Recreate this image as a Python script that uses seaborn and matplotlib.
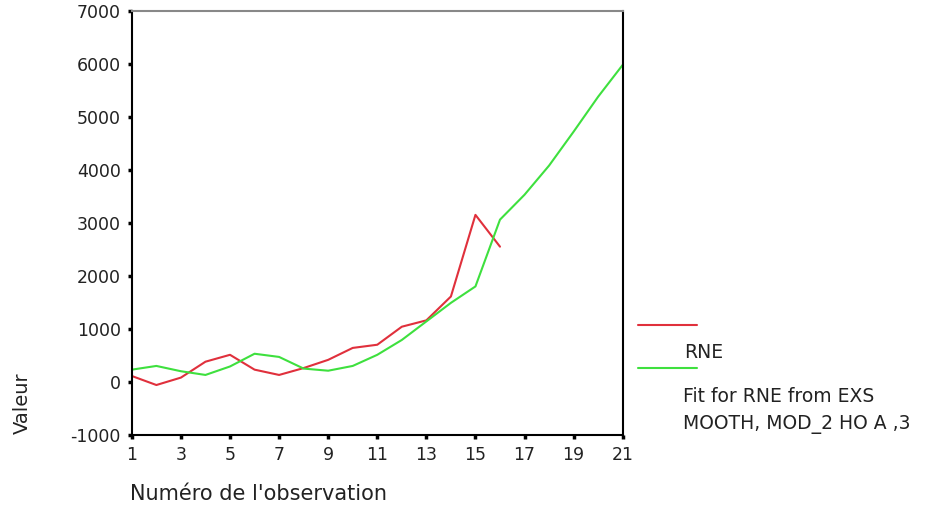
import matplotlib
matplotlib.use("Agg")
import matplotlib.pyplot as plt
import seaborn as sns
import pandas as pd
from matplotlib.lines import Line2D

obs_rne = list(range(1, 17))
rne = [110, -60, 80, 380, 510, 230, 130, 260, 415, 640, 700, 1040, 1160, 1610, 3150, 2550]
obs_fit = list(range(1, 22))
fit = [230, 300, 200, 130, 290, 530, 470, 250, 210, 300, 510, 790, 1140, 1490, 1800,
       3060, 3530, 4080, 4720, 5380, 5980]
xticks = list(range(1, 22, 2))
yticks = list(range(-1000, 7001, 1000))

sns.set_theme(style="white")
plt.rcParams['font.family'] = ['DejaVu Sans']
plt.rcParams['axes.unicode_minus'] = False

fig = plt.figure(figsize=(9.35, 5.14), dpi=100)
ax = fig.add_axes([0.141, 0.154, 0.525, 0.825])

df_r = pd.DataFrame({"obs": obs_rne, "val": rne})
df_f = pd.DataFrame({"obs": obs_fit, "val": fit})
red = "#e0303c"
green = "#3ee03e"
sns.lineplot(data=df_r, x="obs", y="val", ax=ax, color=red, lw=1.5)
sns.lineplot(data=df_f, x="obs", y="val", ax=ax, color=green, lw=1.5)

ax.set_xlim(1, 21)
ax.set_ylim(-1000, 7000)
ax.set_xticks(xticks)
ax.set_yticks(yticks)
ax.tick_params(axis='both', direction='out', length=3, width=2.5, color='black',
               labelsize=12.5, labelcolor='#222222', pad=5, bottom=True, left=True)
for s in ['left', 'bottom', 'right']:
    ax.spines[s].set_color('black')
    ax.spines[s].set_linewidth(1.5)
ax.spines['top'].set_color('#888888')
ax.spines['top'].set_linewidth(1.5)
ax.set_xlabel("")
ax.set_ylabel("")

fig.text(0.139, 1 - 494/514, "Numéro de l'observation", fontsize=15, color='#222222', ha='left', va='center')
fig.text(0.024, 1 - 403/514, "Valeur", fontsize=14, color='#222222', rotation=90, ha='center', va='center')

# legend
fig.add_artist(Line2D([0.682, 0.745], [1 - 325/514] * 2, color=red, lw=1.5))
fig.text(0.732, 1 - 352/514, "RNE", fontsize=13.5, color='#222222', ha='left', va='center')
fig.add_artist(Line2D([0.682, 0.745], [1 - 368/514] * 2, color=green, lw=1.5))
fig.text(0.730, 1 - 396/514, "Fit for RNE from EXS", fontsize=13.5, color='#222222', ha='left', va='center')
fig.text(0.730, 1 - 425/514, "MOOTH, MOD_2 HO A ,3", fontsize=13.5, color='#222222', ha='left', va='center')

fig.savefig("out.png", dpi=100, facecolor='white')
